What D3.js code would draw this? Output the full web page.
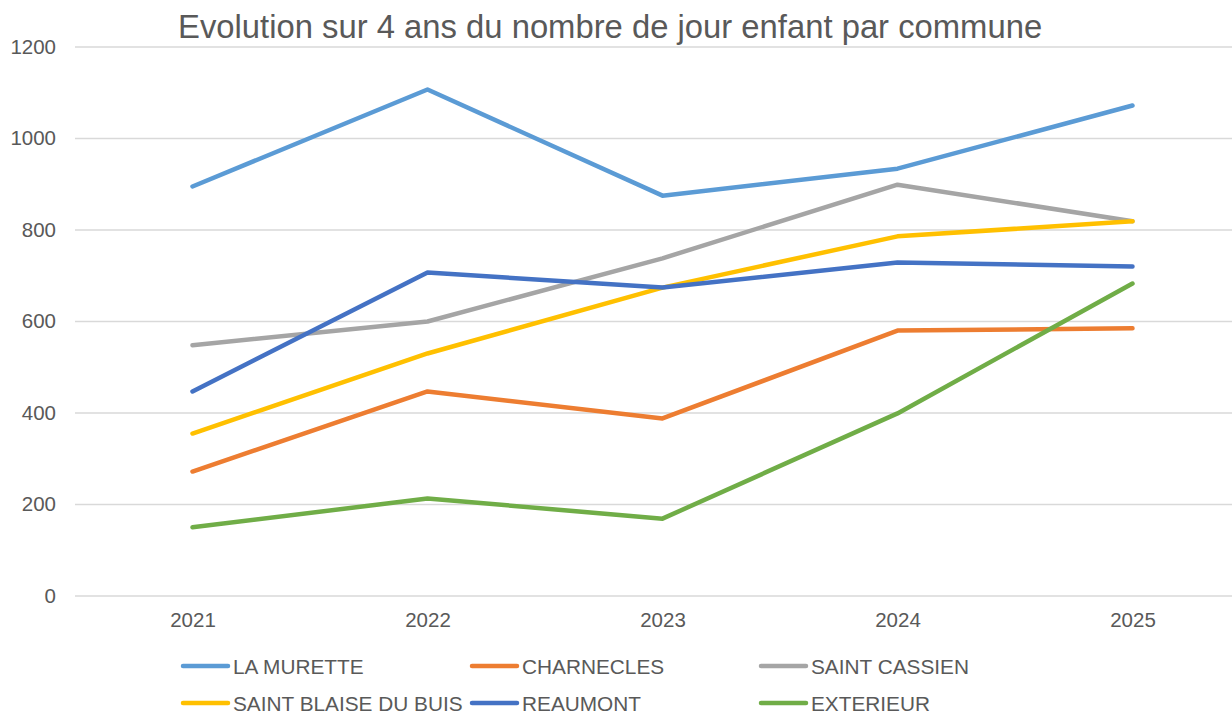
<!DOCTYPE html>
<html>
<head>
<meta charset="utf-8">
<script src="https://cdn.jsdelivr.net/npm/d3@7"></script>
<style>
  body { margin: 0; background: #fff; overflow: hidden; }
  text { font-family: "Liberation Sans", Arial, sans-serif; fill: #595959; }
</style>
</head>
<body>
<div id="chart"></div>
<script>
// Data
const years = ['2021', '2022', '2023', '2024', '2025'];
const communes = ['LA MURETTE', 'CHARNECLES', 'SAINT CASSIEN', 'SAINT BLAISE DU BUIS', 'REAUMONT', 'EXTERIEUR'];
const laMurette = [894, 1106, 874, 933, 1071];
const charnecles = [271, 446, 387, 579, 584];
const saintCassien = [547, 599, 737, 898, 818];
const saintBlaise = [354, 529, 673, 785, 818];
const reaumont = [446, 706, 673, 728, 719];
const exterieur = [149, 212, 168, 398, 682];
const yTicks = [0, 200, 400, 600, 800, 1000, 1200];
const colors = ['#5B9BD5', '#ED7D31', '#A5A5A5', '#FFC000', '#4472C4', '#70AD47'];

const series = [laMurette, charnecles, saintCassien, saintBlaise, reaumont, exterieur]
  .map((values, i) => ({ name: communes[i], color: colors[i], values }));

const width = 1232, height = 713;
const plot = { left: 75, right: 1250, top: 46.5, bottom: 595.5 };
const font = '"Liberation Sans", Arial, sans-serif';

const svg = d3.select('#chart').append('svg')
  .attr('width', width).attr('height', height);

const x = d3.scalePoint().domain(years)
  .range([plot.left, plot.right]).padding(0.5);
const y = d3.scaleLinear().domain([0, 1200]).range([plot.bottom, plot.top]);

// Title
svg.append('text')
  .attr('x', 178).attr('y', 38)
  .attr('font-size', 32.8)
  .text('Evolution sur 4 ans du nombre de jour enfant par commune');

// Gridlines + y labels
const yAxis = svg.append('g')
  .attr('transform', `translate(${plot.left},0)`)
  .call(d3.axisLeft(y).tickValues(yTicks).tickFormat(d3.format('d'))
    .tickSize(-(plot.right - plot.left)).tickPadding(19));
yAxis.select('.domain').remove();
yAxis.selectAll('.tick line').attr('stroke', '#d9d9d9').attr('stroke-width', 1.5);
yAxis.selectAll('.tick text')
  .attr('font-size', 20.5).attr('fill', '#595959').attr('font-family', font);

// x labels
const xAxis = svg.append('g')
  .attr('transform', `translate(0,${plot.bottom})`)
  .call(d3.axisBottom(x).tickSize(0).tickPadding(17));
xAxis.select('.domain').remove();
xAxis.selectAll('.tick text')
  .attr('font-size', 20.5).attr('fill', '#595959').attr('font-family', font);

// Lines
const line = d3.line()
  .x((d, i) => x(years[i]))
  .y(d => y(d));

svg.append('g').selectAll('path')
  .data(series)
  .enter().append('path')
  .attr('d', d => line(d.values))
  .attr('fill', 'none')
  .attr('stroke', d => d.color)
  .attr('stroke-width', 4.5)
  .attr('stroke-linecap', 'round')
  .attr('stroke-linejoin', 'round');

// Legend
const legendCols = [181, 470, 759];
const legendRows = [666, 703];
const legend = svg.append('g').selectAll('g')
  .data(series)
  .enter().append('g')
  .attr('transform', (d, i) => `translate(${legendCols[i % 3]},${legendRows[Math.floor(i / 3)]})`);

legend.append('line')
  .attr('x1', 2).attr('x2', 47)
  .attr('stroke', d => d.color)
  .attr('stroke-width', 4.5)
  .attr('stroke-linecap', 'round');

legend.append('text')
  .attr('x', 52).attr('y', 7.5)
  .attr('font-size', 20.8)
  .text(d => d.name);
</script>
</body>
</html>
